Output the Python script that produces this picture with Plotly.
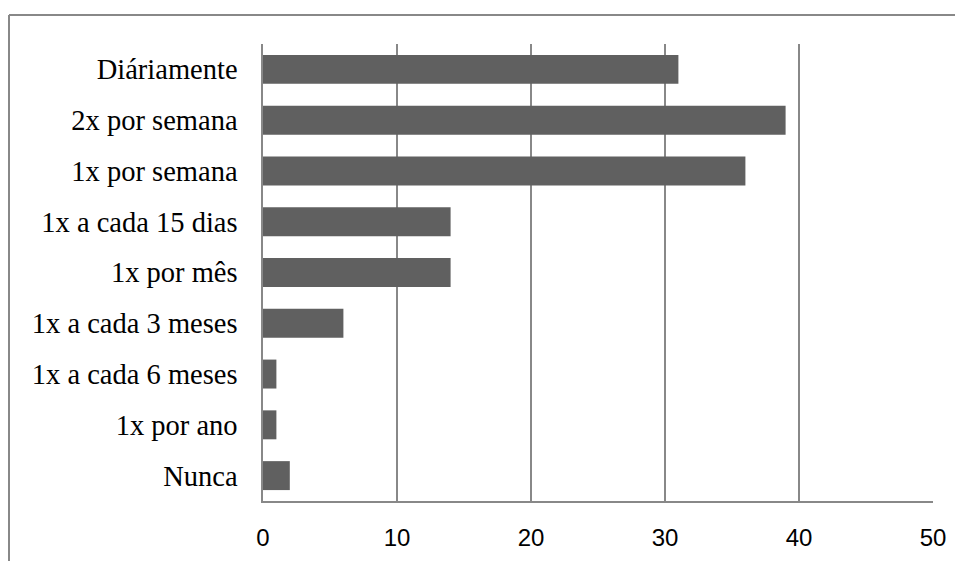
import plotly.graph_objects as go

categories = ["Diáriamente", "2x por semana", "1x por semana", "1x a cada 15 dias",
              "1x por mês", "1x a cada 3 meses", "1x a cada 6 meses", "1x por ano", "Nunca"]
values = [31, 39, 36, 14, 14, 6, 1, 1, 2]
x_ticks = [0, 10, 20, 30, 40, 50]

fig = go.Figure(go.Bar(
    x=values, y=categories, orientation="h",
    marker=dict(color="#606060", line=dict(width=0)),
    hoverinfo="x+y",
))

OFF = 8  # page body margin
W, H = 963 - OFF, 561 - OFF
L, R, T, B = 263 - OFF, 30, 44 - OFF, 60
pw, ph = W - L - R, H - T - B

def px_x(p):
    return (p - OFF - L) / pw

def px_y(p):
    return (H - B - (p - OFF)) / ph

grid_col = "#888888"
fig.update_layout(
    width=W, height=H,
    margin=dict(l=L, r=R, t=T, b=B, autoexpand=False),
    paper_bgcolor="white", plot_bgcolor="white",
    bargap=0.43,
    showlegend=False,
    xaxis=dict(
        range=[0, 50], tickvals=x_ticks, ticktext=[str(v) for v in x_ticks],
        showgrid=True, gridcolor=grid_col, gridwidth=1.5,
        showline=True, linecolor=grid_col, linewidth=1.5,
        zeroline=False, ticks="", ticklabelstandoff=14, automargin=False,
        tickfont=dict(family="Liberation Sans, Arial, sans-serif", size=24, color="#000000"),
        fixedrange=True,
    ),
    yaxis=dict(
        categoryorder="array", categoryarray=categories, autorange="reversed",
        showgrid=False, showline=True, linecolor=grid_col, linewidth=1.5,
        zeroline=False, ticks="", ticklabelstandoff=18, automargin=False,
        tickfont=dict(family="Times New Roman, Liberation Serif, serif", size=28.5, color="#000000"),
        fixedrange=True,
    ),
    shapes=[
        dict(type="line", xref="paper", yref="paper",
             x0=px_x(9), x1=px_x(963 + 5), y0=px_y(15), y1=px_y(15),
             line=dict(color=grid_col, width=2)),
        dict(type="line", xref="paper", yref="paper",
             x0=px_x(9), x1=px_x(9), y0=px_y(15), y1=px_y(561 + 5),
             line=dict(color=grid_col, width=2)),
    ],
)

fig.write_html("out.html")
